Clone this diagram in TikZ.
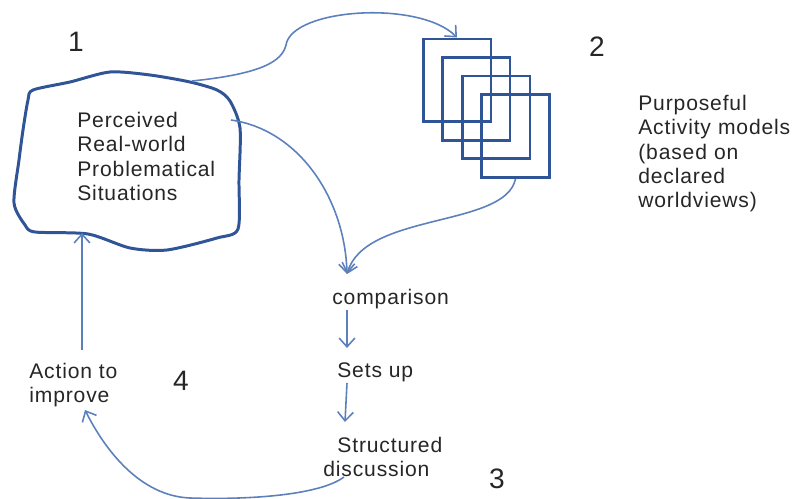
\documentclass[tikz,border=0pt]{standalone}
\usepackage{fontspec}
\setmainfont{Liberation Sans}[LetterSpace=4.0]
\usetikzlibrary{arrows.meta}
\definecolor{darkb}{RGB}{47,85,151}
\definecolor{arrb}{RGB}{91,128,188}
\definecolor{txtc}{RGB}{38,38,38}
\tikzset{
  txt/.style={font=\fontsize{12}{13.8}\selectfont, text=txtc, inner sep=0pt, align=left},
  numtxt/.style={font=\fontsize{16}{18}\selectfont, text=txtc, inner sep=0pt},
  modelbox/.style={draw=darkb, line width=1.7pt, minimum width=1.36cm, minimum height=1.66cm, inner sep=0pt},
  conn/.style={draw=arrb, line width=0.9pt, -{Straight Barb[length=5pt,width=9pt,line width=0.9pt]}},
  plainconn/.style={draw=arrb, line width=0.9pt}
}
\begin{document}
\begin{tikzpicture}[x=0.02cm,y=-0.02cm]
\useasboundingbox (0,0) rectangle (795,499);
% numbers
\node[numtxt] (one) at (76,42) {1};
\node[numtxt] (two) at (597,47) {2};
\node[numtxt] (three) at (497,479) {3};
\node[numtxt] (four) at (181,381) {4};
% blob
\draw[darkb, line width=1.7pt, line join=round] plot[smooth cycle, tension=0.45] coordinates {
 (33,90) (70,82) (110,72) (150,75) (190,82) (217,90) (230,101) (240,128) (239,180) (238,229)
 (217,238) (167,250) (130,248) (88,234) (35,232) (25,225) (14,203) (19,160) (23,130) (28,100)};
\node[txt, anchor=north west] (pr) at (77,112) {Perceived\\Real-world\\Problematical\\Situations};
\coordinate (btop) at (192,81);
\coordinate (bright) at (231,120);
\coordinate (bbot) at (82,233);
% models
\node[modelbox] (m1) at (457,80.5) {};
\node[modelbox] (m2) at (476,99) {};
\node[modelbox] (m3) at (496,117.5) {};
\node[modelbox] (m4) at (515.5,136) {};
\node[txt, anchor=north west, text width=3.2cm] (pam) at (638,95) {Purposeful\\Activity models\\(based on\\declared\\worldviews)};
% middle column
\node[txt, anchor=base west] (cmp) at (332,305) {comparison};
\node[txt, anchor=base west] (sets) at (337,378) {Sets up};
\node[txt, anchor=north west] (sd) at (323,437) {\hspace*{8pt}Structured\\discussion};
\node[txt, anchor=north west] (act) at (29,363) {Action to\\improve};
\coordinate (cmptip) at (347,274);
\coordinate (sdstart) at (344,477);
\coordinate (actstart) at (82,350);
\coordinate (acttip) at (85,410);
% connectors
\draw[conn] (btop) .. controls (260,74) and (282,62) .. (286,45)
  .. controls (292,8) and (420,0) .. (m1.north);
\draw[conn] (bright) .. controls (300,130) and (345,200) .. (cmptip);
\draw[conn] (m4.south) .. controls (505,228) and (365,212) .. (cmptip);
\draw[conn] (347,310) -- (347,348);
\draw[conn] (347,383) -- (345,422);
\draw[conn] (actstart) -- (bbot);
\draw[conn] (sdstart) .. controls (320,495) and (250,500) .. (190,498)
  .. controls (140,496) and (105,450) .. (acttip);
\end{tikzpicture}
\end{document}
